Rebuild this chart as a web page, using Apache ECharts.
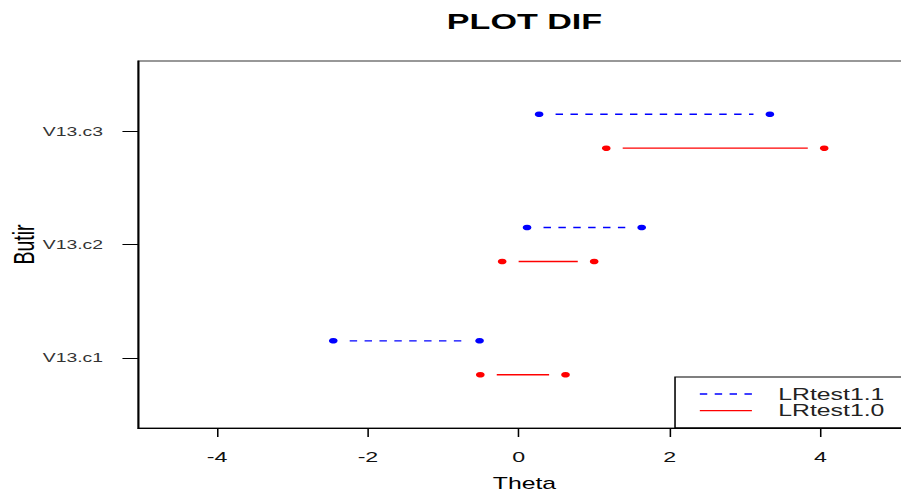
<!DOCTYPE html>
<html>
<head>
<meta charset="utf-8">
<script src="https://cdn.jsdelivr.net/npm/echarts@6/dist/echarts.min.js"></script>
<style>
  html, body { margin: 0; padding: 0; background: #fff; width: 901px; height: 500px; overflow: hidden; }
  /* the reference image is a horizontally stretched R plot */
  #chart { width: 582px; height: 500px; transform: scaleX(1.55); transform-origin: 0 0; }
</style>
</head>
<body>
<div id="chart"></div>
<script>
// ---- data ----
const categories = ['V13.c1', 'V13.c2', 'V13.c3'];
const lr11Low  = [-2.46, 0.11, 0.27];   // LRtest1.1 (blue, dashed)
const lr11High = [-0.52, 1.63, 3.33];
const lr10Low  = [-0.51, -0.22, 1.16];  // LRtest1.0 (red, solid)
const lr10High = [0.62, 1.00, 4.05];
const xTickValues = [-4, -2, 0, 2, 4];
const yTickValues = [1, 2, 3];
const seriesNames = ['LRtest1.1', 'LRtest1.0'];

// ---- styling ----
const FONT = '"Liberation Sans", Arial, Helvetica, sans-serif';
const GAP = 10.6;   // R type="b" gap around the points (px)
const DOT = 2.8;    // point radius (px)
const DASH = [4.8, 4.8];

function makeRender(offset, dashed) {
  return function (params, api) {
    const y = api.value(2) + offset;
    const p1 = api.coord([api.value(0), y]);
    const p2 = api.coord([api.value(1), y]);
    const color = api.visual('color');
    const children = [];
    if (p2[0] - p1[0] > 2 * GAP) {
      children.push({
        type: 'line',
        shape: { x1: p1[0] + GAP, y1: p1[1], x2: p2[0] - GAP, y2: p2[1] },
        style: { stroke: color, lineWidth: 1.3, lineDash: dashed ? DASH : null }
      });
    }
    children.push({ type: 'circle', shape: { cx: p1[0], cy: p1[1], r: DOT }, style: { fill: color } });
    children.push({ type: 'circle', shape: { cx: p2[0], cy: p2[1], r: DOT }, style: { fill: color } });
    return { type: 'group', children: children };
  };
}

const blueData = categories.map((c, i) => [lr11Low[i], lr11High[i], i + 1]);
const redData  = categories.map((c, i) => [lr10Low[i], lr10High[i], i + 1]);

const dashIcon = 'path://M0,0h4.8v1.3h-4.8z M9.6,0h4.8v1.3h-4.8z M19.2,0h4.8v1.3h-4.8z M28.8,0h4.8v1.3h-4.8z';
const solidIcon = 'path://M0,0h33.6v1.3h-33.6z';

const chart = echarts.init(document.getElementById('chart'), null, { renderer: 'svg' });
chart.setOption({
  animation: false,
  backgroundColor: '#fff',
  textStyle: { fontFamily: FONT },
  title: {
    text: 'PLOT DIF',
    left: 338.4,
    top: 10,
    padding: 0,
    textAlign: 'center',
    textStyle: { fontSize: 22, fontWeight: 'bold', color: '#000', fontFamily: FONT }
  },
  grid: {
    left: 89, top: 61, width: 498.7, height: 367,
    show: true, borderColor: '#333', borderWidth: 1, backgroundColor: 'transparent',
    containLabel: false,
    outerBoundsMode: 'none'
  },
  xAxis: {
    type: 'value',
    min: -5.05, max: 5.2,
    name: 'Theta',
    nameLocation: 'middle',
    nameGap: 47,
    nameTextStyle: { fontSize: 16, color: '#000', fontFamily: FONT },
    axisLine: { show: true, onZero: false, lineStyle: { color: '#000', width: 1 } },
    axisTick: { show: true, length: 9, customValues: xTickValues, lineStyle: { color: '#000', width: 1 } },
    axisLabel: { customValues: xTickValues, fontSize: 15, margin: 21, color: '#111', fontFamily: FONT },
    splitLine: { show: false }
  },
  yAxis: {
    type: 'value',
    min: 0.38, max: 3.62,
    name: 'Butir',
    nameLocation: 'middle',
    nameGap: 64,
    nameMoveOverlap: false,
    nameTextStyle: { fontSize: 19.5, color: '#000', fontFamily: FONT },
    axisLine: { show: true, onZero: false, lineStyle: { color: '#000', width: 1 } },
    axisTick: { show: true, length: 10, customValues: yTickValues, lineStyle: { color: '#000', width: 1 } },
    axisLabel: {
      customValues: yTickValues,
      fontSize: 12.5, margin: 22.5, color: '#333', fontFamily: FONT,
      formatter: function (v) { return categories[Math.round(v) - 1] || ''; }
    },
    splitLine: { show: false }
  },
  legend: {
    orient: 'vertical',
    left: 435.5,
    top: 377,
    padding: [9, 20, 9, 16],
    borderColor: '#000',
    borderWidth: 1,
    backgroundColor: '#fff',
    itemWidth: 33.6,
    itemHeight: 16,
    itemGap: 0.7,
    selectedMode: false,
    textStyle: { fontSize: 16, lineHeight: 16, color: '#222', padding: [0, 0, 0, 12], fontFamily: FONT },
    data: [
      { name: seriesNames[0], icon: dashIcon, itemStyle: { color: '#0000ff' } },
      { name: seriesNames[1], icon: solidIcon, itemStyle: { color: '#ff0000' } }
    ]
  },
  series: [
    {
      name: seriesNames[0],
      type: 'custom',
      itemStyle: { color: '#0000ff' },
      encode: { x: [0, 1], y: 2 },
      renderItem: makeRender(0.15, true),
      data: blueData,
      silent: true
    },
    {
      name: seriesNames[1],
      type: 'custom',
      itemStyle: { color: '#ff0000' },
      encode: { x: [0, 1], y: 2 },
      renderItem: makeRender(-0.15, false),
      data: redData,
      silent: true
    }
  ]
});
</script>
</body>
</html>
